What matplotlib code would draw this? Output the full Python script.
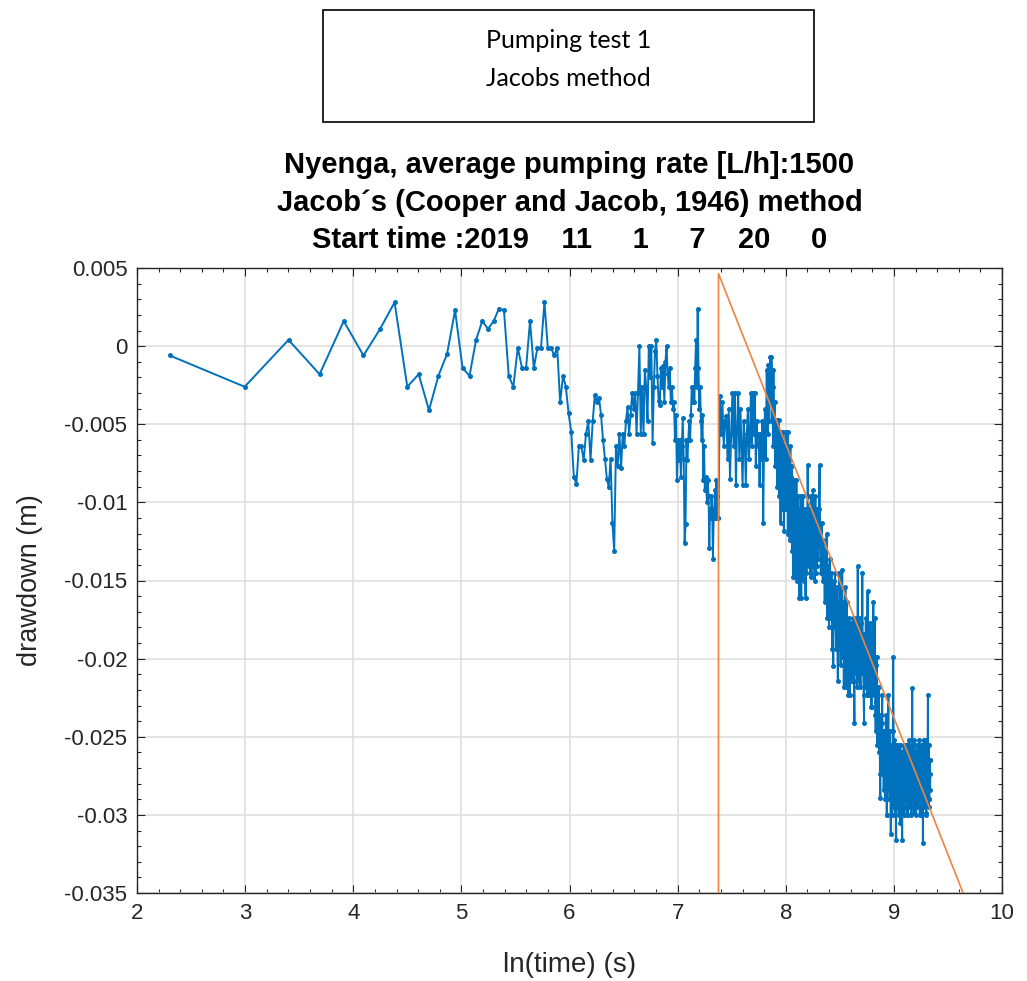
import numpy as np
import matplotlib
matplotlib.use("Agg")
import matplotlib.pyplot as plt
from matplotlib.patches import Rectangle
from matplotlib.ticker import MultipleLocator, FixedFormatter, FixedLocator

plt.rcParams["axes.unicode_minus"] = False
plt.rcParams["font.family"] = ["Liberation Sans", "DejaVu Sans"]

# ---- drawdown record (mm), logged at a fixed interval within each block ----
# block 1: 10 s .. 420 s, every 10 s
b1_start, b1_step = 10, 10
b1_mm = [-0.6, -2.6, 0.4, -1.8, 1.6, -0.6, 1.1, 2.8, -2.6, -1.8,
         -4.1, -1.9, -0.5, 2.3, -1.4, -1.9, 0.4, 1.6, 1.1, 1.6,
         2.4, 2.3, -1.9, -2.6, -0.1, -1.4, -1.4, 1.6, -1.4, -0.1,
         -0.1, 2.8, -0.1, -0.1, -0.6, -0.1, -3.6, -1.9, -2.6, -4.3,
         -5.5, -8.4]

# block 2: 430 s .. 1590 s, every 10 s
b2_start, b2_step = 430, 10
b2_mm = [-8.8, -6.4, -6.4, -7.3, -5.6, -4.8, -7.3, -4.8, -3.1, -3.6,
         -3.3, -4.4, -6.0, -7.2, -8.5, -9.0, -7.2, -11.3, -13.1, -6.4,
         -7.7, -5.6, -7.8, -5.6, -6.4, -4.8, -3.9, -5.6, -4.4, -3.0,
         -4.0, -3.0, -5.6, -3.0, 0.0, -5.6, -2.6, -5.6, -1.5, -2.6,
         -4.8, 0.0, -2.0, 0.0, -6.2, -2.6, -0.3, 0.4, -1.9, -3.5,
         -3.8, -1.4, -2.6, -1.3, -3.6, -1.0, 0.0, -1.8, -2.6, -1.4,
         -3.6, -2.6, -4.0, -3.6, -6.0, -4.4, -8.6, -6.0, -7.3, -6.0,
         -8.4, -6.4, -4.6, -7.2, -12.6, -11.4, -6.0, -7.3, -6.0, -4.8,
         -6.0, -4.4, -2.6, -3.6, -2.6, -3.6, -1.4, 0.4, -2.6, 2.4,
         -1.4, -4.0, -2.6, -4.8, -6.0, -4.4, -8.6, -6.4, -9.2, -8.4,
         -9.2, -10.0, -8.6, -9.6, -12.9, -10.4, -11.0, -9.6, -10.4, -13.6,
         -11.0, -10.4, -9.2, -11.0, -8.6, -9.6, -11.0]

# block 3: 1600 s .. 2580 s, every 20 s
b3_start, b3_step = 1600, 20
b3_mm = [-11.0, -3.2, -5.6, -3.6, -6.4, -4.8, -4.5, -7.2, -4.0, -8.5,
         -5.6, -3.0, -6.4, -3.0, -8.9, -5.2, -3.0, -7.2, -4.0, -6.4,
         -8.9, -4.8, -6.0, -8.9, -5.6, -4.0, -7.2, -6.0, -3.0, -6.4,
         -3.0, -5.6, -3.0, -7.7, -4.8, -6.4, -5.6, -8.9, -5.6, -7.2,
         -4.8, -11.3, -6.0, -4.0, -7.2, -1.5, -5.6, -1.2, -4.8, -0.7]

# block 4: 2600 s .. 3990 s, every 10 s
b4_start, b4_step = 2600, 10
b4_mm = [-3.6, -0.7, -1.5, -4.8, -2.6, -6.4, -1.5, -4.7, -5.6, -3.6,
         -7.7, -4.7, -5.5, -6.4, -4.7, -9.0, -6.0, -5.6, -8.4, -4.7,
         -6.4, -9.6, -5.5, -7.2, -11.3, -6.4, -8.4, -5.5, -10.4, -7.2,
         -9.0, -5.5, -8.4, -11.8, -6.4, -9.6, -7.7, -10.4, -5.5, -9.0,
         -6.4, -10.4, -8.4, -5.5, -12.0, -9.0, -7.2, -11.3, -8.4, -12.4,
         -9.6, -6.4, -11.3, -12.4, -8.4, -10.4, -7.7, -13.1, -9.6, -14.8,
         -10.4, -12.4, -8.6, -11.8, -13.6, -9.6, -14.8, -11.3, -12.4, -8.6,
         -13.6, -10.4, -15.0, -11.8, -9.6, -14.1, -12.4, -16.1, -10.4, -13.1,
         -11.0, -14.1, -9.6, -12.4, -16.1, -11.8, -13.6, -10.4, -14.8, -12.0,
         -9.6, -13.1, -15.0, -11.3, -12.4, -14.1, -10.4, -13.6, -16.1, -11.8,
         -12.4, -14.5, -10.4, -13.1, -11.3, -7.6, -9.6, -12.4, -14.1, -11.8,
         -13.6, -10.4, -12.4, -14.5, -11.3, -13.1, -9.6, -12.0, -14.8, -11.3,
         -12.4, -10.4, -13.6, -9.2, -11.8, -14.1, -12.4, -10.4, -13.1, -15.0,
         -11.8, -13.6, -9.6, -12.4, -14.5, -11.3, -13.1, -10.4, -14.1, -12.0]

# block 5: 4000 s .. 11350 s, every 25 s
b5_start, b5_step = 4000, 25
b5_mm = [-11.8, -13.6, -10.4, -7.6, -12.4, -14.5, -11.3, -13.6,
         -15.0, -12.4, -14.1, -16.4, -13.1, -15.4, -12.0, -17.4,
         -14.1, -16.4, -18.0, -13.6, -15.0, -17.4, -14.5, -19.4,
         -16.4, -20.5, -15.0, -18.0, -14.5, -17.4, -19.4, -15.4,
         -18.4, -21.4, -16.4, -19.4, -14.5, -17.7, -20.4, -16.4,
         -18.0, -14.3, -19.9, -16.4, -21.8, -17.4, -19.4, -15.4,
         -21.8, -18.4, -16.4, -20.4, -19.4, -22.3, -17.4, -18.4,
         -22.3, -19.4, -17.7, -20.9, -18.4, -21.4, -19.9, -17.4,
         -21.4, -24.1, -18.0, -20.4, -17.4, -20.9, -19.4, -21.8,
         -14.1, -19.4, -17.4, -21.4, -18.4, -20.4, -21.8, -17.7,
         -18.4, -20.9, -14.5, -19.4, -20.4, -22.3, -24.1, -18.4,
         -19.4, -21.8, -17.4, -20.9, -18.4, -22.3, -15.7, -19.9,
         -20.9, -18.4, -22.3, -19.4, -21.4, -17.7, -19.9, -23.1,
         -23.1, -19.4, -18.4, -21.8, -16.4, -22.3, -21.4, -19.9,
         -17.4, -23.6, -24.6, -20.4, -22.8, -19.9, -25.5, -21.8,
         -25.5, -22.3, -21.8, -26.0, -24.1, -27.4, -28.9, -23.6,
         -23.6, -26.5, -24.1, -22.3, -27.4, -25.5, -24.6, -28.4,
         -24.6, -26.5, -25.5, -29.0, -28.0, -23.6, -26.0, -30.0,
         -30.0, -25.5, -27.4, -24.6, -22.3, -28.4, -26.0, -29.0,
         -29.0, -24.6, -27.0, -31.2, -25.5, -28.4, -26.5, -30.0,
         -28.0, -25.5, -19.9, -24.6, -27.4, -29.5, -25.2, -28.4,
         -30.0, -26.0, -28.4, -31.6, -25.5, -27.4, -29.5, -26.5,
         -25.5, -29.0, -27.0, -30.0, -26.5, -28.4, -25.5, -30.5,
         -25.5, -28.9, -30.0, -26.0, -27.0, -29.5, -31.6, -26.5,
         -26.0, -29.0, -28.9, -25.5, -27.4, -30.0, -29.5, -26.0,
         -27.4, -25.5, -28.4, -29.0, -26.0, -26.5, -30.0, -27.4,
         -30.0, -25.5, -27.4, -28.9, -25.2, -29.5, -28.4, -26.0,
         -26.0, -29.0, -29.5, -25.5, -27.0, -30.0, -25.5, -28.0,
         -21.9, -27.4, -28.4, -25.5, -26.5, -29.0, -29.9, -26.0,
         -25.2, -28.9, -28.0, -26.0, -26.0, -29.5, -30.0, -27.0,
         -27.0, -25.5, -25.5, -29.5, -29.0, -26.0, -26.5, -28.9,
         -28.4, -25.5, -25.2, -29.0, -30.0, -26.5, -27.4, -29.5,
         -26.0, -28.4, -29.5, -25.5, -27.0, -30.0, -25.5, -28.4,
         -31.8, -26.5, -27.4, -25.2, -25.2, -29.5, -29.0, -26.0,
         -26.5, -29.0, -28.4, -25.5, -25.2, -30.0, -29.9, -26.5,
         -26.5, -28.9, -28.0, -25.5, -22.3, -27.4, -27.4, -29.5,
         -25.5, -29.0, -29.0, -26.5, -26.5, -28.4, -27.4]

# Cooper-Jacob straight line s = a + b*ln(t), fitted from t = 1600 s
fit_start_s = 1600
jacob_a = 0.1339
jacob_b = -0.01752

xticks = [2, 3, 4, 5, 6, 7, 8, 9, 10]
xtick_labels = ["2", "3", "4", "5", "6", "7", "8", "9", "10"]
yticks = [0.005, 0.0, -0.005, -0.01, -0.015, -0.02, -0.025, -0.03, -0.035]
ytick_labels = ["0.005", "0", "-0.005", "-0.01", "-0.015", "-0.02",
                "-0.025", "-0.03", "-0.035"]

blocks = [(b1_start, b1_step, b1_mm), (b2_start, b2_step, b2_mm),
          (b3_start, b3_step, b3_mm), (b4_start, b4_step, b4_mm),
          (b5_start, b5_step, b5_mm)]
time_s = np.concatenate([s + d * np.arange(len(v)) for s, d, v in blocks])
drawdown_m = np.concatenate([np.asarray(v, float) for _, _, v in blocks]) / 1000.0
ln_t = np.log(time_s)

# ---- figure ----
W, H = 1027, 981
fig = plt.figure(figsize=(W / 100, H / 100), dpi=100)
ax = fig.add_axes([137 / W, 1 - 893 / H, 865 / W, 625 / H])

blue = "#0072BD"
orange = "#EC8442"
dark = "#262626"

ax.plot(ln_t, drawdown_m, color=blue, lw=1.4, marker="o", ms=3.6,
        mew=0, zorder=3)

x0 = np.log(fit_start_s)
x_line = np.array([x0, x0, 10.0])
y_line = np.array([-0.035, jacob_a + jacob_b * x0, jacob_a + jacob_b * 10.0])
ax.plot(x_line, y_line, color=orange, lw=1.2, zorder=4)

ax.set_xlim(2, 10)
ax.set_ylim(-0.035, 0.005)
ax.xaxis.set_major_locator(FixedLocator(xticks))
ax.xaxis.set_major_formatter(FixedFormatter(xtick_labels))
ax.yaxis.set_major_locator(FixedLocator(yticks))
ax.yaxis.set_major_formatter(FixedFormatter(ytick_labels))
ax.xaxis.set_minor_locator(MultipleLocator(0.2))
ax.yaxis.set_minor_locator(MultipleLocator(0.001))
ax.tick_params(which="both", direction="in", top=True, right=True,
               color=dark, labelcolor=dark, labelsize=16, width=0.8)
ax.tick_params(which="major", length=6, pad=7)
ax.tick_params(which="minor", length=3)
ax.grid(True, which="major", color="#dddddd", lw=1.1, zorder=0)
ax.set_axisbelow(True)
for sp in ax.spines.values():
    sp.set_color(dark)
    sp.set_linewidth(1.0)

ax.set_xlabel("ln(time) (s)", fontsize=20, color=dark)
ax.set_ylabel("drawdown (m)", fontsize=19.5, color=dark)
ax.xaxis.label.set_va("center")
ax.yaxis.label.set_va("center")
ax.xaxis.set_label_coords(0.5, -(965 - 893) / 625)
ax.yaxis.set_label_coords((30 - 137) / 865, 0.5)

# three-line bold title
cx = 569.5 / W
title_lines = ["Nyenga, average pumping rate [L/h]:1500",
               "Jacob\u00b4s (Cooper and Jacob, 1946) method",
               "Start time :2019    11     1     7    20     0"]
for line, ypx in zip(title_lines, [165, 203, 240]):
    fig.text(cx, 1 - ypx / H, line, ha="center", va="center",
             fontsize=21, fontweight="bold", color="black")

# caption box above the chart
fig.add_artist(Rectangle((323 / W, 1 - 122 / H), 491 / W, 112 / H,
                         transform=fig.transFigure, fill=False,
                         edgecolor="black", lw=1.2))
for line, ypx in zip(["Pumping test 1", "Jacobs method"], [41, 79]):
    fig.text(568.5 / W, 1 - ypx / H, line, ha="center", va="center",
             fontsize=18, family=["Lato", "DejaVu Sans"], color="black")

fig.savefig("out.png", dpi=100)
